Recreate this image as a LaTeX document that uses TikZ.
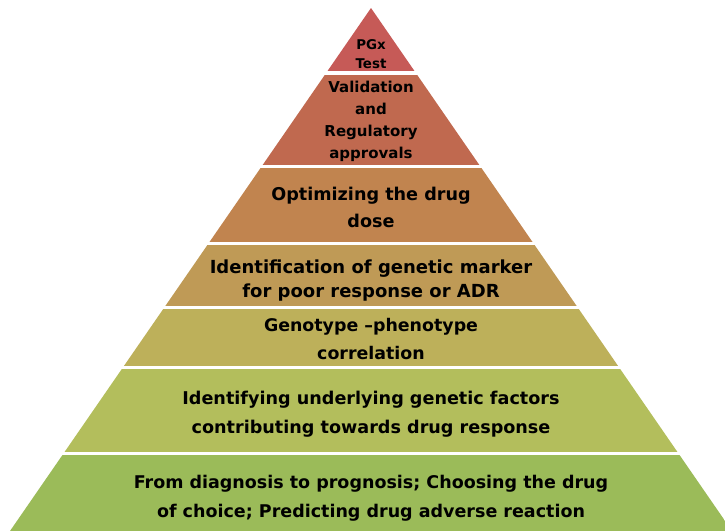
\documentclass[tikz,border=0pt]{standalone}
\usepackage{fontspec}
\setmainfont{DejaVu Sans}
\definecolor{lay1}{HTML}{C65A57}
\definecolor{lay2}{HTML}{C0694F}
\definecolor{lay3}{HTML}{C1844F}
\definecolor{lay4}{HTML}{BF9A56}
\definecolor{lay5}{HTML}{BDB05A}
\definecolor{lay6}{HTML}{B3BE5C}
\definecolor{lay7}{HTML}{9BBB59}
\begin{document}
\begin{tikzpicture}[x=1pt,y=-1pt,
  lbl/.style={align=center,inner sep=0pt,text=black,font=\bfseries\fontsize{18}{29}\selectfont}]
\useasboundingbox (0,0) rectangle (725,531);
\begin{scope}
\clip (371,8) -- (10,531) -- (732,531) -- cycle;
\fill[lay1] (0,0) rectangle (725,71);
\fill[lay2] (0,75) rectangle (725,165);
\fill[lay3] (0,168) rectangle (725,242);
\fill[lay4] (0,245) rectangle (725,306);
\fill[lay5] (0,309) rectangle (725,366);
\fill[lay6] (0,369) rectangle (725,452);
\fill[lay7] (0,455) rectangle (725,531);
\end{scope}
\node[lbl,font=\bfseries\fontsize{13.4}{19}\selectfont] (t1) at (371,54) {PGx\\Test};
\node[lbl,font=\bfseries\fontsize{15}{22}\selectfont] (t2) at (371,121) {Validation\\and\\Regulatory\\approvals};
\node[lbl,font=\bfseries\fontsize{17.6}{27}\selectfont] (t3) at (371,207) {Optimizing the drug\\dose};
\node[lbl,font=\bfseries\fontsize{18}{24}\selectfont] (t4) at (371,281) {Identification of genetic marker\\for poor response or ADR};
\node[lbl,font=\bfseries\fontsize{17.4}{28}\selectfont] (t5) at (371,339) {Genotype --phenotype\\correlation};
\node[lbl,font=\bfseries\fontsize{17.6}{29}\selectfont] (t6) at (371,414) {Identifying underlying genetic factors\\contributing towards drug response};
\node[lbl,font=\bfseries\fontsize{17.5}{29}\selectfont] (t7) at (371,498) {From diagnosis to prognosis; Choosing the drug\\of choice; Predicting drug adverse reaction};
\end{tikzpicture}
\end{document}
